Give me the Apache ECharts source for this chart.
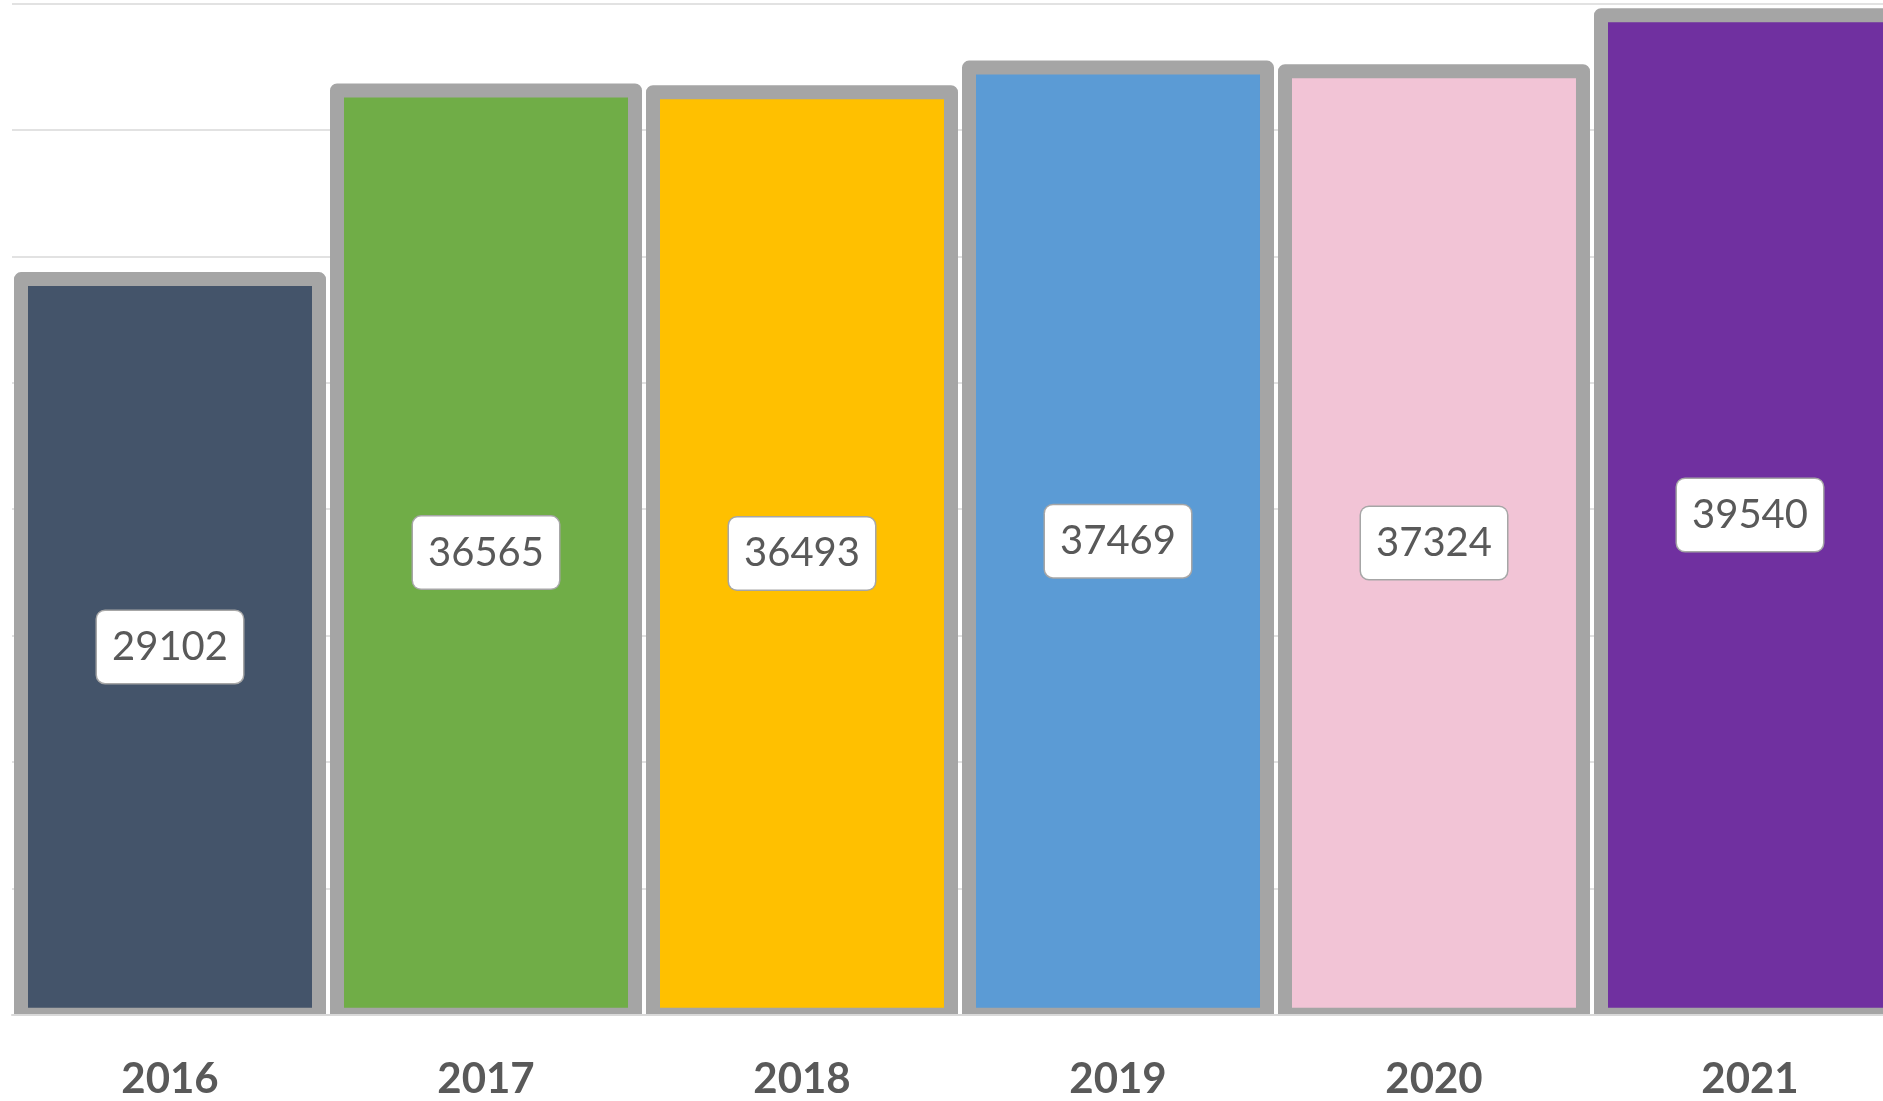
<!DOCTYPE html>
<html>
<head>
<meta charset="utf-8">
<script src="https://cdn.jsdelivr.net/npm/echarts@6/dist/echarts.min.js"></script>
<style>
  html, body { margin: 0; padding: 0; background: #fff; }
  #chart { width: 1883px; height: 1101px; }
</style>
</head>
<body>
<div id="chart"></div>
<script>
// yearly totals
var years = ['2016', '2017', '2018', '2019', '2020', '2021'];
var totals = [29102, 36565, 36493, 37469, 37324, 39540];
var barColors = ['#44546a', '#70ad47', '#ffc000', '#5b9bd5', '#f2c4d6', '#7030a0'];

var chartDom = document.getElementById('chart');
var myChart = echarts.init(chartDom);
var option;

// Excel centres the bar border on the bar edge, ECharts bar series draws it inside,
// so the bars are drawn with a custom series
function renderBar(params, api) {
  var idx = api.value(0);
  var val = api.value(1);
  var top = api.coord([idx, val]);
  var base = api.coord([idx, 0]);
  var w = api.size([1, 0])[0] * 0.943;
  return {
    type: 'rect',
    shape: { x: top[0] - w / 2, y: top[1], width: w, height: base[1] - top[1] },
    style: {
      fill: barColors[params.dataIndex],
      stroke: '#a5a5a5',
      lineWidth: 14,
      lineJoin: 'round'
    },
    textContent: {
      style: {
        text: String(val),
        fill: '#595959',
        fontFamily: 'Lato',
        fontSize: 40,
        backgroundColor: '#ffffff',
        borderColor: '#a6a6a6',
        borderWidth: 1.5,
        borderRadius: 8,
        padding: [17, 15, 15, 15]
      }
    },
    textConfig: { position: 'inside' }
  };
}

option = {
  animation: false,
  grid: { left: 12, width: 1896, top: 3.6, bottom: 86.2, outerBoundsMode: 'none' },
  xAxis: [
    {
      type: 'category',
      data: years,
      z: 6,
      axisLine: { lineStyle: { color: '#d9d9d9', width: 2 } },
      axisTick: { show: false },
      axisLabel: {
        margin: 44,
        color: '#595959',
        fontFamily: 'Lato',
        fontWeight: 'bold',
        fontSize: 42
      }
    },
    {
      // white strip hiding the bar border below the baseline
      type: 'category',
      data: years,
      position: 'bottom',
      offset: 7,
      z: 5,
      axisLine: { lineStyle: { color: '#ffffff', width: 12 } },
      axisTick: { show: false },
      axisLabel: { show: false }
    }
  ],
  yAxis: {
    type: 'value',
    min: 0,
    max: 40000,
    interval: 5000,
    axisLabel: { show: false },
    axisLine: { show: false },
    axisTick: { show: false },
    splitLine: { lineStyle: { color: '#d9d9d9', width: 1.5 } }
  },
  series: [
    {
      type: 'custom',
      renderItem: renderBar,
      encode: { x: 0, y: 1 },
      data: totals.map(function (v, i) { return [i, v]; })
    }
  ]
};

option && myChart.setOption(option);
</script>
</body>
</html>
